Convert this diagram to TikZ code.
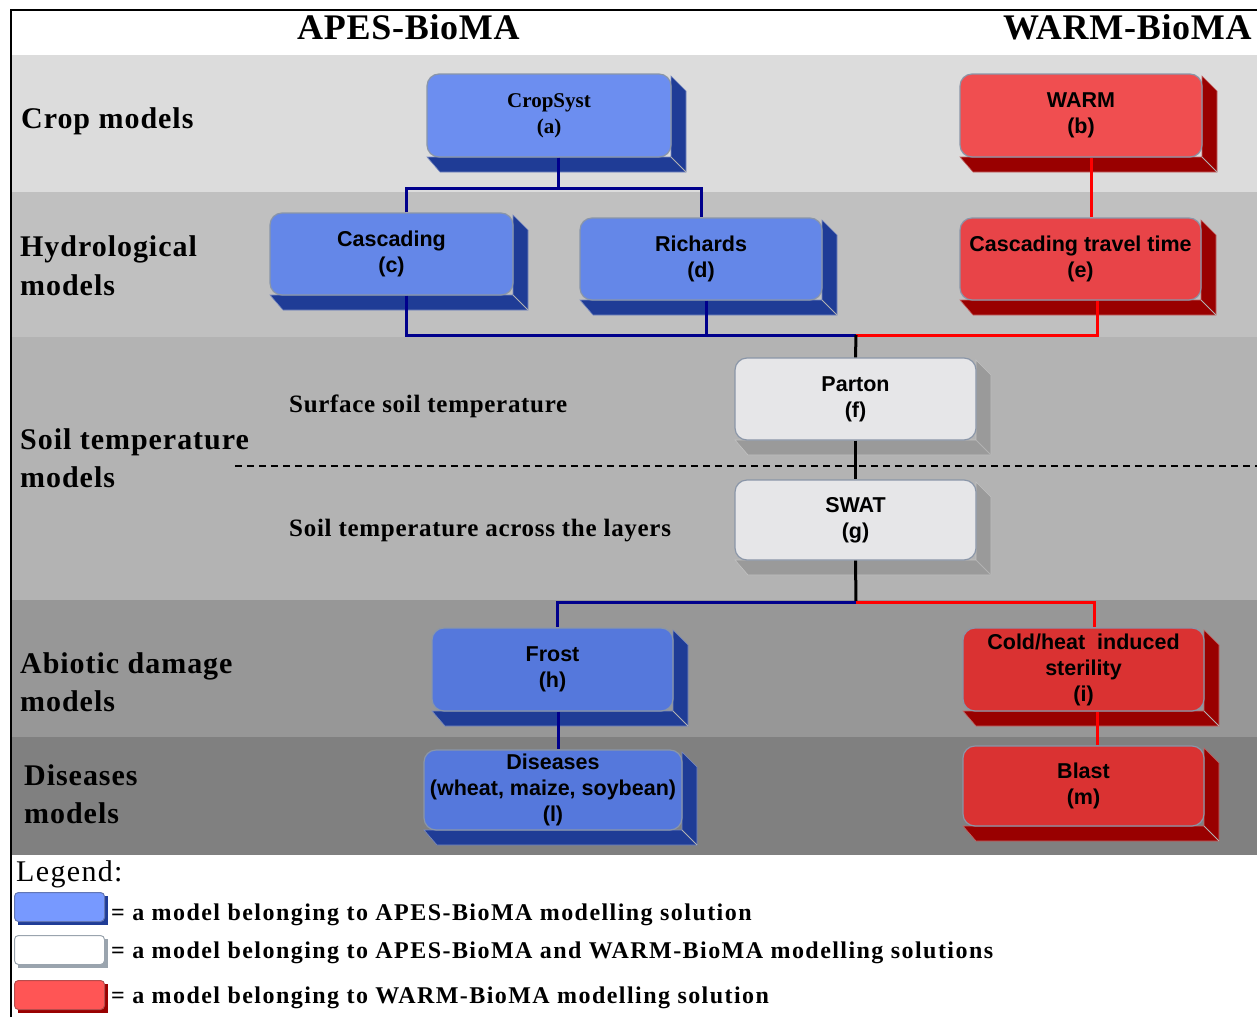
\documentclass[tikz,border=0pt]{standalone}
\usepackage{fontspec}
\setmainfont{Liberation Serif}
\newfontfamily\sansf{Liberation Sans}
\newfontfamily\catff[LetterSpace=3.2]{Liberation Serif}
\newfontfamily\subff[LetterSpace=2.8]{Liberation Serif}
\newfontfamily\legff[LetterSpace=6]{Liberation Serif}
\newfontfamily\leghff[LetterSpace=4.5]{Liberation Serif}
\newfontfamily\ttlff[LetterSpace=2]{Liberation Serif}
\definecolor{bandA}{HTML}{DCDCDC}
\definecolor{bandB}{HTML}{C0C0C0}
\definecolor{bandC}{HTML}{B3B3B3}
\definecolor{bandD}{HTML}{979797}
\definecolor{bandE}{HTML}{808080}
\definecolor{faceA}{HTML}{6C8EF0}
\definecolor{faceC}{HTML}{6487E8}
\definecolor{faceH}{HTML}{5578DC}
\definecolor{faceB}{HTML}{F04E50}
\definecolor{faceE}{HTML}{E84448}
\definecolor{faceI}{HTML}{DA3232}
\definecolor{faceW}{HTML}{E6E6E8}
\definecolor{sideBl}{HTML}{1F3C96}
\definecolor{sideRd}{HTML}{990000}
\definecolor{sideGy}{HTML}{9A9A9A}
\definecolor{fborder}{HTML}{8A96A8}
\definecolor{navyln}{HTML}{00008C}
\definecolor{redln}{HTML}{FF0000}
\definecolor{legBl}{HTML}{7799FF}
\definecolor{legRd}{HTML}{FF5555}
\definecolor{legGy}{HTML}{9AA4AE}
\tikzset{
  face/.style={draw=fborder, line width=1.2pt, rounded corners=12pt, align=center, inner sep=0pt},
  boxsans/.style={font=\sansf\bfseries\fontsize{21.5}{26}\selectfont},
  boxserif/.style={font=\bfseries\fontsize{21}{26}\selectfont},
  catlbl/.style={font=\catff\bfseries\fontsize{30}{38}\selectfont, anchor=base west, inner sep=0pt},
  sublbl/.style={font=\subff\bfseries\fontsize{25}{30}\selectfont, anchor=base west, inner sep=0pt},
  ttl/.style={font=\ttlff\bfseries\fontsize{36}{40}\selectfont, anchor=base west, inner sep=0pt},
  legtxt/.style={font=\legff\bfseries\fontsize{24}{28}\selectfont, anchor=base west, inner sep=0pt},
  bl/.style={navyln, line width=3pt},
  rd/.style={redln, line width=3pt},
  bk/.style={black, line width=3pt},
  swatch/.style={draw=fborder, line width=1pt, rounded corners=4pt, minimum width=90pt, minimum height=29pt, inner sep=0pt},
}
% #1 name, #2 x1, #3 y1, #4 x2, #5 y2, #6 face, #7 side, #8 style, #9 text
\newcommand\threedbox[9]{%
  \fill[#7, draw=#7!60!white, line width=0.6pt] (#4,#3+2) -- (#4+15,#3+17) -- (#4+15,#5+15) -- (#2+13,#5+15) -- (#2,#5) -- (#4,#5) -- cycle;
  \draw[gray!60, line width=0.8pt] (#4,#5) -- (#4+15,#5+15);
  \pgfmathsetmacro\bw{#4-#2}\pgfmathsetmacro\bh{#5-#3}%
  \node[face, fill=#6, #8, minimum width=\bw pt, minimum height=\bh pt] (#1) at ({(#2+#4)/2},{(#3+#5)/2}) {#9};
}
\newcommand\legswatch[5]{% name, y top, face, side, border
  \fill[#4] (18,#2+4) rectangle (108,#2+33);
  \node[swatch, fill=#3, draw=#5, anchor=north west] (#1) at (14,#2) {};
}
\begin{document}
\begin{tikzpicture}[x=1pt, y=-1pt]
\useasboundingbox (0,0) rectangle (1257,1017);
\fill[white] (0,0) rectangle (1257,1017);
% bands
\fill[bandA] (12,55) rectangle (1257,192);
\fill[bandB] (12,192) rectangle (1257,337);
\fill[bandC] (12,337) rectangle (1257,600);
\fill[bandD] (12,600) rectangle (1257,737);
\fill[bandE] (12,737) rectangle (1257,855);
% frame
\draw[black, line width=2pt] (11,1017) -- (11,10) -- (1257,10);
% titles
\node[ttl] (t1) at (297,39) {APES-BioMA};
\node[ttl] (t2) at (1003,39) {WARM-BioMA};
% category labels
\node[catlbl] (l1) at (21,128) {Crop models};
\node[catlbl] (l2a) at (20,256) {Hydrological};
\node[catlbl] (l2b) at (20,295) {models};
\node[catlbl] (l3a) at (20,449) {Soil temperature};
\node[catlbl] (l3b) at (20,487) {models};
\node[catlbl] (l4a) at (20,673) {Abiotic damage};
\node[catlbl] (l4b) at (20,711) {models};
\node[catlbl] (l5a) at (24,785) {Diseases};
\node[catlbl] (l5b) at (24,823) {models};
\node[sublbl] (s1) at (289,412) {Surface soil temperature};
\node[sublbl] (s2) at (289,536) {Soil temperature across the layers};
% dashed separator
\draw[black, line width=1.3pt, dash pattern=on 7pt off 5pt] (235,466) -- (1257,466);
% boxes
\threedbox{a}{427}{74}{671}{157}{faceA}{sideBl}{boxserif}{CropSyst\\(a)}
\threedbox{b}{960}{74}{1202}{157}{faceB}{sideRd}{boxsans}{WARM\\(b)}
\threedbox{c}{270}{213}{513}{295}{faceC}{sideBl}{boxsans}{Cascading\\(c)}
\threedbox{d}{580}{218}{822}{300}{faceC}{sideBl}{boxsans}{Richards\\(d)}
\threedbox{e}{960}{218}{1201}{300}{faceE}{sideRd}{boxsans}{Cascading travel time\\(e)}
\threedbox{f}{735}{358}{976}{440}{faceW}{sideGy}{boxsans}{Parton\\(f)}
\threedbox{g}{735}{480}{976}{560}{faceW}{sideGy}{boxsans}{SWAT\\(g)}
\threedbox{h}{432}{628}{673}{711}{faceH}{sideBl}{boxsans}{Frost\\(h)}
\threedbox{i}{963}{628}{1204}{711}{faceI}{sideRd}{boxsans}{Cold/heat\ \ induced\\sterility\\(i)}
\threedbox{l}{424}{750}{682}{830}{faceH}{sideBl}{boxsans}{Diseases\\(wheat, maize, soybean)\\(l)}
\threedbox{m}{963}{746}{1204}{826}{faceI}{sideRd}{boxsans}{Blast\\(m)}
% junctions
\coordinate (j1) at (558,188);
\coordinate (j2) at (856,335);
\coordinate (j3) at (856,602);
% connectors
\draw[bl] ([xshift=9pt]a.south) -- (j1);
\draw[bl] ([xshift=14.5pt]c.north) |- (j1) -| (d.north);
\draw[rd] ([xshift=10pt]b.south) -- ([xshift=10.5pt]e.north);
\draw[bl] ([xshift=14.5pt]c.south) |- (j2);
\draw[bl] ([xshift=5pt]d.south) -- ([xshift=5pt]d.south |- j2);
\draw[rd] ([xshift=16.5pt]e.south) |- (j2);
\draw[bk] (j2) -- (f.north);
\draw[bk] (f.south) -- (g.north);
\draw[bk] (g.south) -- (j3);
\draw[bl] (j3) -| ([xshift=4.5pt]h.north);
\draw[rd] (j3) -| ([xshift=10.5pt]i.north);
\draw[bl] ([xshift=5.5pt]h.south) -- ([xshift=5pt]l.north);
\draw[rd] ([xshift=13.5pt]i.south) -- ([xshift=13.5pt]m.north);
% legend
\node[font=\leghff\fontsize{30}{34}\selectfont, anchor=base west, inner sep=0pt] (leg) at (16,881) {Legend:};
\legswatch{sw1}{892}{legBl}{sideBl}{sideBl!70!white}
\legswatch{sw2}{935}{white}{legGy}{legGy}
\legswatch{sw3}{980}{legRd}{sideRd}{sideRd!70!white}
\node[legtxt] (lt1) at (111,920) {= a model belonging to APES-BioMA modelling solution};
\node[legtxt] (lt2) at (111,958) {= a model belonging to APES-BioMA and WARM-BioMA modelling solutions};
\node[legtxt] (lt3) at (111,1003) {= a model belonging to WARM-BioMA modelling solution};
\end{tikzpicture}
\end{document}
